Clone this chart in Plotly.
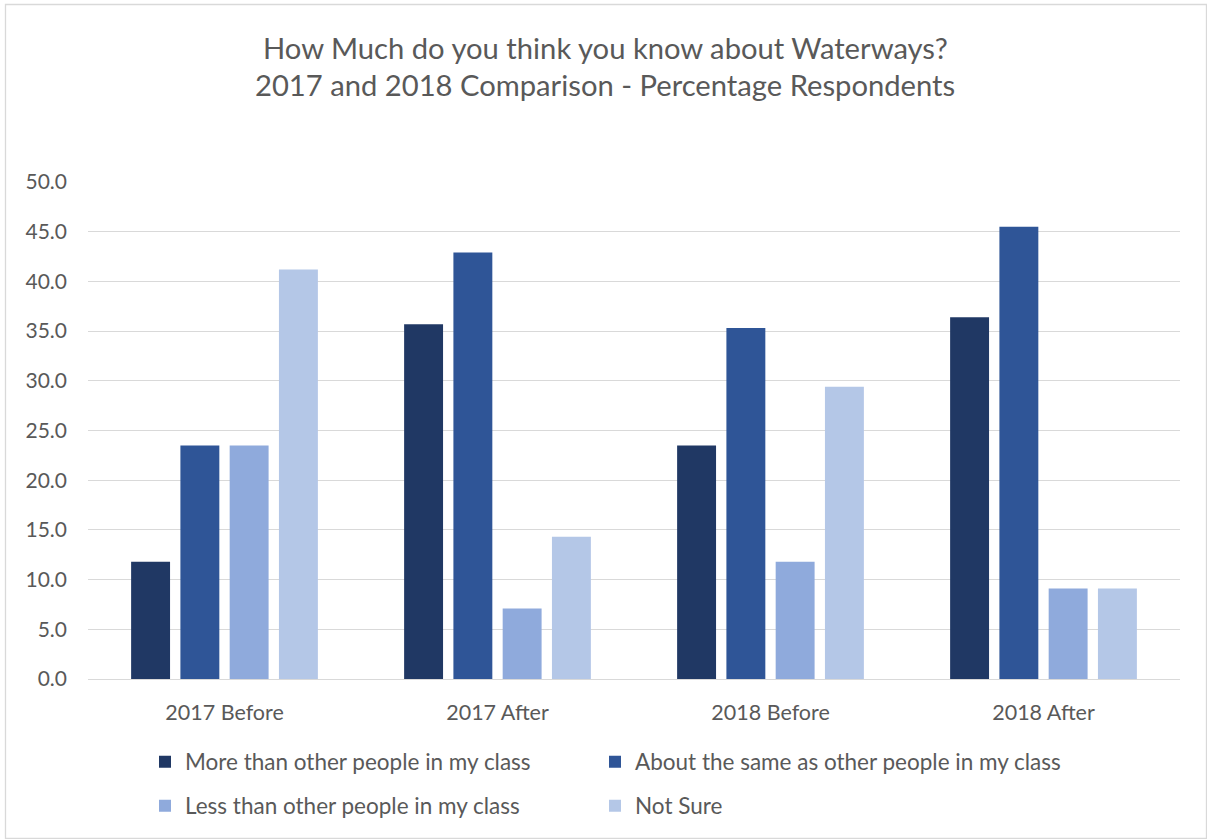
import plotly.graph_objects as go

categories = ["2017 Before", "2017 After", "2018 Before", "2018 After"]
series_names = [
    "More than other people in my class",
    "About the same as other people in my class",
    "Less than other people in my class",
    "Not Sure",
]
more_than = [11.8, 35.7, 23.5, 36.4]
about_same = [23.5, 42.9, 35.3, 45.5]
less_than = [23.5, 7.1, 11.8, 9.1]
not_sure = [41.2, 14.3, 29.4, 9.1]
tick_vals = [0, 5, 10, 15, 20, 25, 30, 35, 40, 45, 50]
tick_text = ["%.1f" % v for v in tick_vals]
title_lines = ["How Much do you think you know about Waterways?",
               "2017 and 2018 Comparison - Percentage Respondents"]

colors = ["#203864", "#2F5597", "#8FAADC", "#B4C7E7"]
values = [more_than, about_same, less_than, not_sure]
legend_ids = ["legend", "legend2", "legend3", "legend4"]

FONT = "Lato"
TXT = "#595959"
fig = go.Figure()
for name, vals, col, lg in zip(series_names, values, colors, legend_ids):
    fig.add_trace(go.Bar(x=categories, y=vals, name=name, marker_color=col,
                         marker_line_width=0, legend=lg, showlegend=True))

W, H = 1207, 839
L, R, T, B = 88, 27, 182, 160
pw, ph = W - L - R, H - T - B

def px2paper_x(px):
    return (px - L) / pw

def py2paper_y(py):
    return (H - B - py) / ph

legend_common = dict(orientation="h", font=dict(family=FONT, size=22.5, color=TXT),
                     xanchor="left", yanchor="middle",
                     bgcolor="rgba(0,0,0,0)", itemwidth=30)

legend_pos = [(145, 762), (595, 762), (145, 806), (595, 806)]

annotations = []
for line, yc in zip(title_lines, [47, 85]):
    annotations.append(dict(text=line, xref="paper", yref="paper", x=px2paper_x(605), y=py2paper_y(yc),
                            xanchor="center", yanchor="middle", showarrow=False,
                            font=dict(family=FONT, size=29.2, color=TXT)))

layout_legends = {}
for lg, (lx, ly) in zip(legend_ids, legend_pos):
    layout_legends[lg] = dict(x=px2paper_x(lx), y=py2paper_y(ly), **legend_common)

fig.update_layout(
    width=W, height=H,
    showlegend=True,
    margin=dict(l=L, r=R, t=T, b=B, autoexpand=False),
    paper_bgcolor="white", plot_bgcolor="white",
    barmode="group", bargap=0.278, bargroupgap=0.21,
    font=dict(family=FONT, color=TXT),
    annotations=annotations,
    xaxis=dict(showgrid=False, showline=False, ticks="", tickfont=dict(family=FONT, size=21.5, color=TXT),
               ticklabelstandoff=18),
    yaxis=dict(range=[0, 50], tickvals=tick_vals, ticktext=tick_text, showgrid=True,
               gridcolor="#D9D9D9", gridwidth=1.3, zeroline=True, zerolinecolor="#D9D9D9", zerolinewidth=1.3,
               showline=False, ticks="", tickfont=dict(family=FONT, size=21, color=TXT),
               ticklabelstandoff=20),
    shapes=[dict(type="rect", xref="paper", yref="paper",
                 x0=px2paper_x(5.5), x1=px2paper_x(1206.5), y0=py2paper_y(838.5), y1=py2paper_y(4.5),
                 line=dict(color="#D9D9D9", width=1.3), fillcolor="rgba(0,0,0,0)", layer="below")],
    **layout_legends,
)

fig.write_html("out.html", config={"displayModeBar": False},
               post_script="document.body.style.margin='0';")
